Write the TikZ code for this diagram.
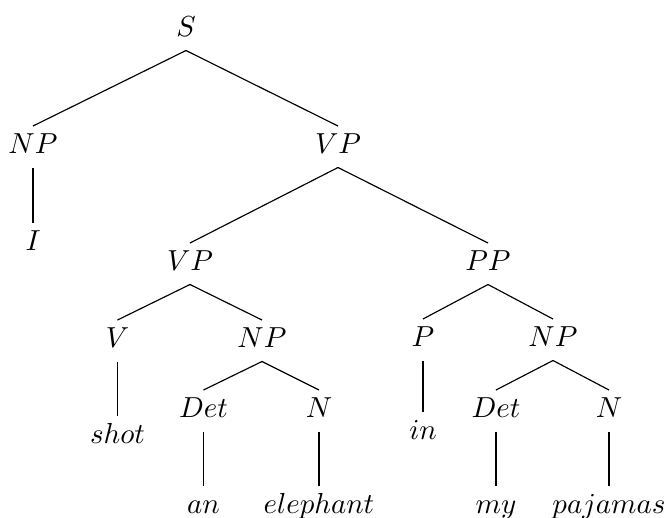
\documentclass[tikz,border=0pt]{standalone}
\usetikzlibrary{calc}
\begin{document}
\begin{tikzpicture}[x=0.3454pt,y=-0.3454pt,
  lbl/.style={anchor=base,inner sep=0pt},
  edge/.style={draw=black,line width=0.4pt}]
\useasboundingbox (0,0) rectangle (666,518);
\node[lbl] (S) at (186,36) {$S$};
\node[lbl] (NPa) at (33,153) {$NP$};
\node[lbl] (VPa) at (338,153) {$VP$};
\node[lbl] (I) at (33,250) {$I$};
\node[lbl] (VPb) at (190,270) {$VP$};
\node[lbl] (PP) at (488,270) {$PP$};
\node[lbl] (V) at (117.5,347) {$V$};
\node[lbl] (NPb) at (262,347) {$NP$};
\node[lbl] (P) at (423,346) {$P$};
\node[lbl] (NPc) at (553,346) {$NP$};
\node[lbl] (shot) at (117.5,443) {$shot$};
\node[lbl] (Deta) at (203.5,417) {$Det$};
\node[lbl] (Na) at (319,417) {$N$};
\node[lbl] (in) at (423,439) {$in$};
\node[lbl] (Detb) at (496,417) {$Det$};
\node[lbl] (Nb) at (609,417) {$N$};
\node[lbl] (an) at (203.5,513) {$an$};
\node[lbl] (elephant) at (319,513) {$elephant$};
\node[lbl] (my) at (496,513) {$my$};
\node[lbl] (pajamas) at (609,513) {$pajamas$};
\foreach \p/\c in {S/NPa,S/VPa,NPa/I,VPa/VPb,VPa/PP,VPb/V,VPb/NPb,PP/P,PP/NPc,
  V/shot,NPb/Deta,NPb/Na,P/in,NPc/Detb,NPc/Nb,Deta/an,Na/elephant,Detb/my,Nb/pajamas}
  \draw[edge] ($(\p.base)+(0,14.5)$) -- ($(\c.base)+(0,-27)$);
\end{tikzpicture}
\end{document}
